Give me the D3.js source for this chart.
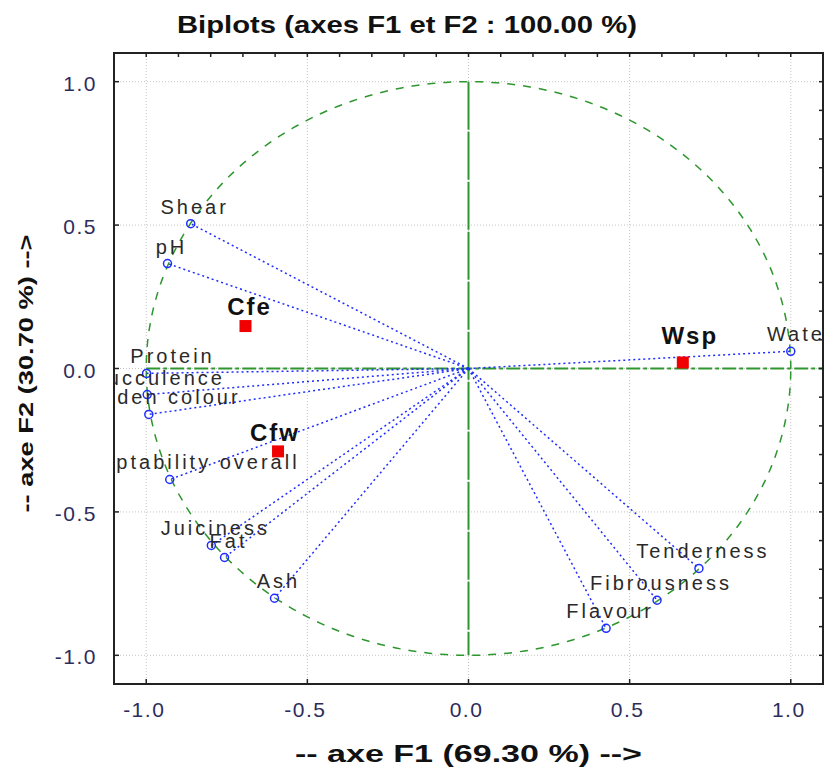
<!DOCTYPE html>
<html>
<head>
<meta charset="utf-8">
<script src="https://cdn.jsdelivr.net/npm/d3@7"></script>
<style>
  body { margin: 0; background: #fff; }
  svg { display: block; }
  text { font-family: Arial, "Liberation Sans", sans-serif; }
</style>
</head>
<body>
<svg id="chart"></svg>
<script>
// variables (correlation circle)
const varNames = ["Water", "Shear", "pH", "Protein", "Succulence", "Golden colour",
  "Acceptability overall", "Juiciness", "Fat", "Ash", "Flavour", "Fibrousness", "Tenderness"];
const varF1 = [1.000, -0.862, -0.934, -0.999, -0.997, -0.992, -0.927, -0.798, -0.757, -0.602, 0.427, 0.585, 0.715];
const varF2 = [0.060, 0.505, 0.366, -0.017, -0.091, -0.160, -0.387, -0.617, -0.659, -0.801, -0.906, -0.808, -0.697];

// observations
const obsNames = ["Cfe", "Cfw", "Wsp"];
const obsF1 = [-0.692, -0.591, 0.665];
const obsF2 = [0.148, -0.289, 0.021];

const tickValues = [-1, -0.5, 0, 0.5, 1];
const tickLabels = ["-1.0", "-0.5", "0.0", "0.5", "1.0"];

const title = "Biplots (axes F1 et F2 : 100.00 %)";
const xTitle = "-- axe F1 (69.30 %) -->";
const yTitle = "-- axe F2 (30.70 %) -->";

// label placement tweaks (px), so labels don't sit right on the points
const varNudge = { "Protein": 26, "Succulence": 11, "Golden colour": 10, "Acceptability overall": 10, "Water": 10 };
const obsNudge = { "Cfe": [4, -11], "Cfw": [-3, -10], "Wsp": [7, -18] };

const width = 825, height = 767;
const frame = { left: 114, right: 823, top: 53, bottom: 684 };

const svg = d3.select("#chart").attr("width", width).attr("height", height);

const x = d3.scaleLinear().domain([-1.1, 1.1]).range([frame.left, frame.right]);
const y = d3.scaleLinear().domain([-1.1, 1.1]).range([frame.bottom, frame.top]);

const green = "#2e962e", blue = "#1f2dff";

svg.append("defs").append("clipPath").attr("id", "plotclip")
  .append("rect")
  .attr("x", frame.left).attr("y", frame.top)
  .attr("width", frame.right - frame.left).attr("height", frame.bottom - frame.top);

// grid
const grid = svg.append("g").attr("stroke", "#c4c4c4").attr("stroke-dasharray", "1,2");
grid.selectAll("line.gx").data(tickValues).join("line")
  .attr("x1", d => x(d)).attr("x2", d => x(d))
  .attr("y1", frame.top).attr("y2", frame.bottom);
grid.selectAll("line.gy").data(tickValues).join("line")
  .attr("y1", d => y(d)).attr("y2", d => y(d))
  .attr("x1", frame.left).attr("x2", frame.right);

const plot = svg.append("g").attr("clip-path", "url(#plotclip)");

// correlation circle
const circle = d3.range(0, 361, 1).map(a => [Math.cos(a * Math.PI / 180), Math.sin(a * Math.PI / 180)]);
plot.append("path")
  .attr("d", d3.line().x(d => x(d[0])).y(d => y(d[1]))(circle))
  .attr("fill", "none").attr("stroke", green).attr("stroke-width", 1.5)
  .attr("stroke-dasharray", "8,8");

// axes through origin
plot.append("line")
  .attr("x1", x(0)).attr("x2", x(0)).attr("y1", y(1)).attr("y2", y(-1))
  .attr("stroke", green).attr("stroke-width", 2).attr("stroke-dasharray", "48,2");
plot.append("line")
  .attr("x1", x(-1)).attr("x2", x(1.1)).attr("y1", y(0)).attr("y2", y(0))
  .attr("stroke", green).attr("stroke-width", 2).attr("stroke-dasharray", "14,3,4,3");

// vectors
const vars = varNames.map((n, i) => ({ name: n, f1: varF1[i], f2: varF2[i] }));
plot.selectAll("line.vec").data(vars).join("line")
  .attr("x1", x(0)).attr("y1", y(0))
  .attr("x2", d => x(d.f1)).attr("y2", d => y(d.f2))
  .attr("stroke", blue).attr("stroke-width", 1.5).attr("stroke-dasharray", "2,3");
plot.selectAll("circle.pt").data(vars).join("circle")
  .attr("cx", d => x(d.f1)).attr("cy", d => y(d.f2)).attr("r", 4)
  .attr("fill", "none").attr("stroke", blue).attr("stroke-width", 1.5);
plot.selectAll("text.vl").data(vars).join("text")
  .attr("x", d => x(d.f1) + (varNudge[d.name] !== undefined ? varNudge[d.name] : 4))
  .attr("y", d => y(d.f2) - 10)
  .attr("text-anchor", "middle")
  .attr("font-size", 20).attr("letter-spacing", 3)
  .attr("fill", "#2a2a2a")
  .text(d => d.name);

// observations
const obs = obsNames.map((n, i) => ({ name: n, f1: obsF1[i], f2: obsF2[i] }));
plot.selectAll("rect.obs").data(obs).join("rect")
  .attr("x", d => x(d.f1) - 6).attr("y", d => y(d.f2) - 6)
  .attr("width", 12).attr("height", 12).attr("fill", "#f00000");
plot.selectAll("text.ol").data(obs).join("text")
  .attr("x", d => x(d.f1) + obsNudge[d.name][0])
  .attr("y", d => y(d.f2) + obsNudge[d.name][1])
  .attr("text-anchor", "middle")
  .attr("font-size", 24).attr("font-weight", "bold").attr("letter-spacing", 2)
  .attr("fill", "#111")
  .text(d => d.name);

// frame and ticks
svg.append("rect")
  .attr("x", frame.left).attr("y", frame.top)
  .attr("width", frame.right - frame.left).attr("height", frame.bottom - frame.top)
  .attr("fill", "none").attr("stroke", "#222").attr("stroke-width", 2);

const minor = d3.range(-11, 12).map(d => d / 10);
const tk = svg.append("g").attr("stroke", "#222").attr("stroke-width", 1.5);
tk.selectAll("line.tb").data(tickValues).join("line")
  .attr("x1", d => x(d)).attr("x2", d => x(d)).attr("y1", frame.bottom).attr("y2", frame.bottom - 5);
tk.selectAll("line.tl").data(tickValues).join("line")
  .attr("y1", d => y(d)).attr("y2", d => y(d)).attr("x1", frame.left).attr("x2", frame.left + 5);
tk.selectAll("line.tt").data(minor).join("line")
  .attr("x1", d => x(d)).attr("x2", d => x(d)).attr("y1", frame.top).attr("y2", frame.top + 4);
tk.selectAll("line.tr").data(minor).join("line")
  .attr("y1", d => y(d)).attr("y2", d => y(d)).attr("x1", frame.right).attr("x2", frame.right - 4);

// tick labels
svg.selectAll("text.xt").data(tickValues).join("text")
  .attr("x", d => x(d) - 2).attr("y", frame.bottom + 33)
  .attr("text-anchor", "middle").attr("font-size", 21).attr("letter-spacing", 1.5)
  .attr("fill", "#2d2d5c")
  .text((d, i) => tickLabels[i]);
svg.selectAll("text.yt").data(tickValues).join("text")
  .attr("x", frame.left - 17).attr("y", d => y(d) + 9)
  .attr("text-anchor", "end").attr("font-size", 21).attr("letter-spacing", 1.5)
  .attr("fill", "#2d2d5c")
  .text((d, i) => tickLabels[i]);

// titles
svg.append("text")
  .attr("x", 407).attr("y", 33).attr("text-anchor", "middle")
  .attr("font-size", 24).attr("font-weight", "bold").attr("fill", "#111")
  .attr("textLength", 460).attr("lengthAdjust", "spacingAndGlyphs")
  .text(title);
svg.append("text")
  .attr("x", (frame.left + frame.right) / 2).attr("y", 762).attr("text-anchor", "middle")
  .attr("font-size", 24).attr("font-weight", "bold").attr("fill", "#111")
  .attr("textLength", 347).attr("lengthAdjust", "spacingAndGlyphs")
  .text(xTitle);
svg.append("text")
  .attr("transform", `translate(33,${(frame.top + frame.bottom) / 2 + 5}) rotate(-90)`)
  .attr("text-anchor", "middle")
  .attr("font-size", 21).attr("font-weight", "bold").attr("fill", "#111")
  .attr("textLength", 278).attr("lengthAdjust", "spacingAndGlyphs")
  .text(yTitle);
</script>
</body>
</html>
